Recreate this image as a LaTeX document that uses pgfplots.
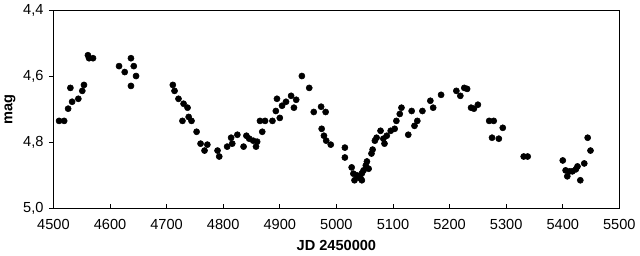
\documentclass[border=0pt]{standalone}
\usepackage{fontspec}
\setmainfont{Liberation Sans}
\usepackage{pgfplots}
\pgfplotsset{compat=1.18}
\begin{document}
\begin{tikzpicture}
\begin{axis}[
  scale only axis,
  width=426.75pt, height=149.25pt,
  xmin=4500, xmax=5500, ymin=4.4, ymax=5.0,
  y dir=reverse,
  xtick={4500,4600,...,5500},
  ytick={4.4,4.6,4.8,5.0},
  /pgf/number format/assume math mode=true,
  x tick label style={/pgf/number format/1000 sep={}, yshift=-5pt},
  y tick label style={/pgf/number format/.cd, fixed, fixed zerofill, precision=1, use comma, /tikz/xshift=-4pt},
  tick label style={font=\fontsize{11}{13}\selectfont},
  xtick pos=bottom, ytick pos=left,
  tick align=inside,
  major tick length=3.5pt,
  ytick style={xshift=-3.5pt},
  xlabel={\textbf{JD 2450000}},
  ylabel={\textbf{mag}},
  label style={font=\fontsize{11}{13}\selectfont},
  xlabel style={yshift=-1pt},
  ylabel style={yshift=-1pt},
  axis line style={line width=0.8pt},
  every tick/.style={black, line width=0.6pt},
]
\addplot[only marks, mark=*, mark size=2.3pt, black] coordinates {
(4510,4.735)(4519,4.735)(4526,4.698)(4530,4.635)(4533,4.677)(4544,4.668)(4551,4.644)(4554,4.626)
(4561,4.536)(4563,4.545)(4570,4.545)(4616,4.569)(4626,4.587)(4637,4.545)(4637,4.629)(4642,4.569)(4646,4.599)
(4711,4.626)(4714,4.644)(4721,4.668)(4730,4.683)(4737,4.695)(4739,4.723)(4728,4.735)(4744,4.735)(4753,4.768)
(4760,4.804)(4772,4.807)(4767,4.825)(4790,4.825)(4793,4.843)(4807,4.813)(4814,4.786)(4825,4.777)(4816,4.804)
(4836,4.813)(4841,4.780)(4846,4.789)(4853,4.795)(4858,4.813)(4860,4.798)(4869,4.768)(4865,4.735)(4874,4.735)
(4887,4.735)(4893,4.705)(4900,4.726)(4895,4.668)(4904,4.689)(4911,4.677)(4920,4.659)(4925,4.695)(4929,4.671)
(4939,4.599)(4952,4.635)(4960,4.708)(4973,4.692)(4981,4.708)(4974,4.759)(4978,4.780)(4982,4.795)(4990,4.807)
(5015,4.816)(5015,4.846)(5027,4.876)(5032,4.915)(5036,4.900)(5043,4.910)(5045,4.894)(5048,4.885)(5052,4.870)
(5054,4.858)(5045,4.915)(5057,4.880)(5040,4.905)(5030,4.895)(5062,4.834)(5064,4.822)(5068,4.795)(5071,4.786)
(5078,4.765)(5083,4.789)(5085,4.804)(5089,4.780)(5096,4.765)(5103,4.759)(5106,4.735)(5112,4.714)(5115,4.695)
(5127,4.777)(5133,4.705)(5138,4.750)(5143,4.735)(5152,4.705)(5166,4.674)(5171,4.695)(5185,4.656)
(5212,4.644)(5219,4.659)(5226,4.635)(5231,4.638)(5238,4.695)(5243,4.698)(5250,4.686)
(5270,4.735)(5278,4.735)(5275,4.786)(5287,4.789)(5294,4.756)(5331,4.843)(5338,4.843)
(5400,4.855)(5405,4.885)(5408,4.903)(5412,4.888)(5417,4.888)(5423,4.882)(5426,4.873)(5431,4.915)
(5438,4.864)(5444,4.786)(5449,4.825)
};
\end{axis}
\end{tikzpicture}
\end{document}
